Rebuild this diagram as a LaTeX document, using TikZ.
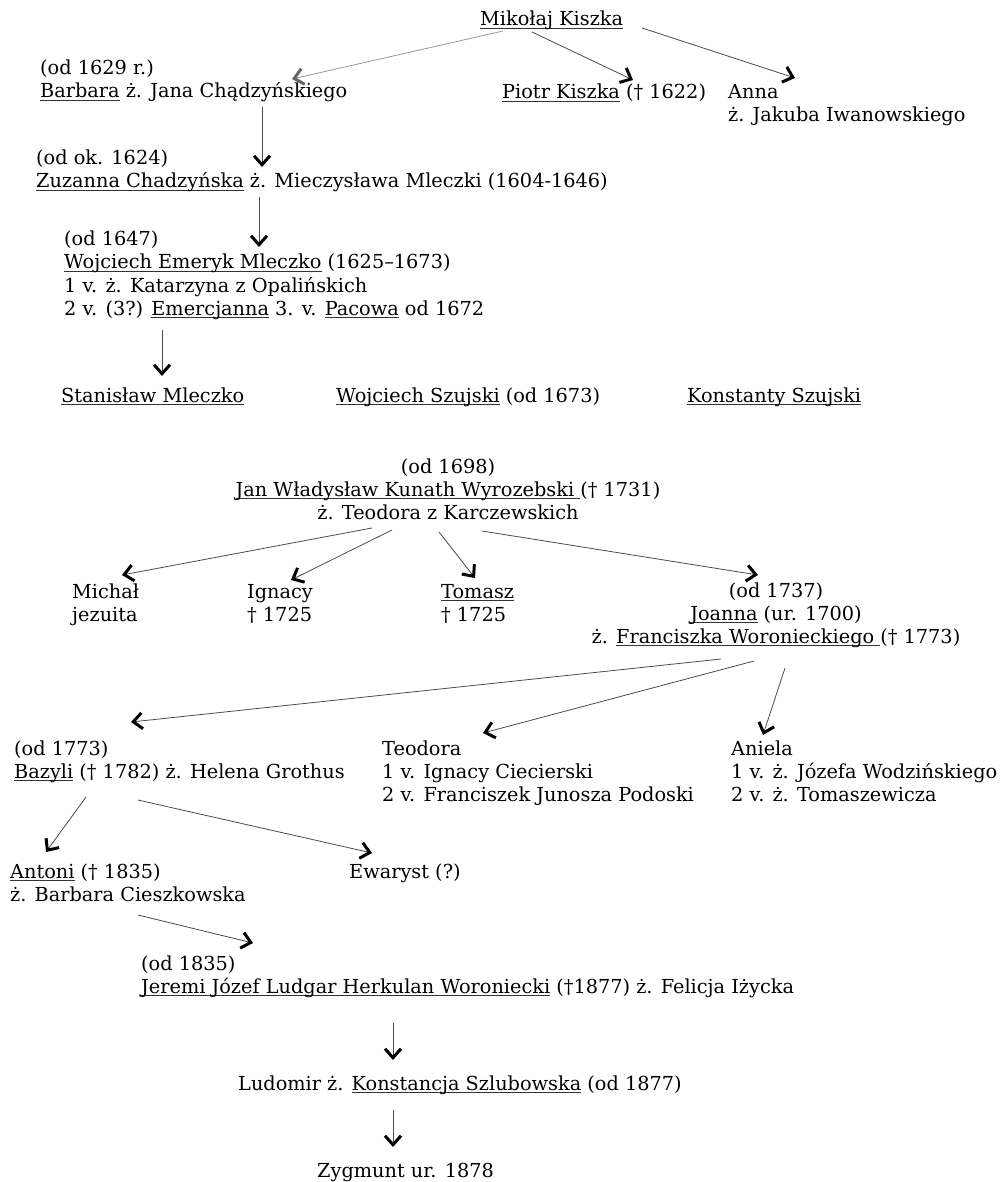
\documentclass[tikz,border=0pt]{standalone}
\usepackage{fontspec}
\setmainfont{DejaVu Serif}
\usetikzlibrary{arrows.meta,calc}
\newcommand\undl[1]{\setbox0=\hbox{#1}\rlap{\color{black!80}\rule[-3pt]{\wd0}{0.9pt}}\box0\relax}
\tikzset{
  txt/.style={inner sep=0pt, anchor=base west, font=\fontsize{19.3}{23}\selectfont, text=black},
  ctxt/.style={txt, anchor=base},
  arr/.style={draw=black!70, line width=0.8pt,
    -{Straight Barb[length=9pt,width=16pt,line width=3pt,color=black]}},
  arrlight/.style={draw=black!40, line width=0.8pt,
    -{Straight Barb[length=9pt,width=16pt,line width=3pt,color=black!60]}}
}
\begin{document}
\begin{tikzpicture}[x=1pt,y=-1pt]
\useasboundingbox[fill=white] (0,0) rectangle (999,1182);
% generation 1
\node[txt] (mik) at (480,26) {\undl{Mikołaj Kiszka}};
\node[txt] (b1) at (40,75) {(od 1629 r.)};
\node[txt] (b2) at (40,98) {\undl{Barbara} ż. Jana Chądzyńskiego};
\node[txt] (piotr) at (502,99) {\undl{Piotr Kiszka} († 1622)};
\node[txt] (anna1) at (728,99) {Anna};
\node[txt] (anna2) at (728,122) {ż. Jakuba Iwanowskiego};
% Zuzanna
\node[txt] (z1) at (36,165) {(od ok. 1624)};
\node[txt] (z2) at (36,188) {\undl{Zuzanna Chadzyńska} ż. Mieczysława Mleczki (1604-1646)};
% Wojciech
\node[txt] (w1) at (64,246) {(od 1647)};
\node[txt] (w2) at (64,269) {\undl{Wojciech Emeryk Mleczko} (1625–1673)};
\node[txt] (w3) at (64,292) {1 v. ż. Katarzyna z Opalińskich};
\node[txt] (w4) at (64,315) {2 v. (3?) \undl{Emercjanna} 3. v. \undl{Pacowa} od 1672};
% row
\node[txt] (stan) at (61,402) {\undl{Stanisław Mleczko}};
\node[txt] (wsz) at (336,402) {\undl{Wojciech Szujski} (od 1673)};
\node[txt] (kon) at (687,402) {\undl{Konstanty Szujski}};
% Jan
\node[ctxt] (j1) at (448,473) {(od 1698)};
\node[ctxt] (j2) at (448,496) {\undl{Jan Władysław Kunath Wyrozebski\ }(† 1731)};
\node[ctxt] (j3) at (448,519) {ż. Teodora z Karczewskich};
% children
\node[txt] (mich1) at (72,598) {Michał};
\node[txt] (mich2) at (72,621) {jezuita};
\node[txt] (ign1) at (247,598) {Ignacy};
\node[txt] (ign2) at (247,621) {† 1725};
\node[txt] (tom1) at (441,598) {\undl{Tomasz}};
\node[txt] (tom2) at (441,621) {† 1725};
\node[ctxt] (jo1) at (776,597) {(od 1737)};
\node[ctxt] (jo2) at (776,620) {\undl{Joanna} (ur. 1700)};
\node[ctxt] (jo3) at (776,643) {ż. \undl{Franciszka Woronieckiego\ }(† 1773)};
% next row
\node[txt] (baz1) at (14,755) {(od 1773)};
\node[txt] (baz2) at (14,778) {\undl{Bazyli} († 1782) ż. Helena Grothus};
\node[txt] (teo1) at (382,755) {Teodora};
\node[txt] (teo2) at (382,778) {1 v. Ignacy Ciecierski};
\node[txt] (teo3) at (382,801) {2 v. Franciszek Junosza Podoski};
\node[txt] (ani1) at (731,755) {Aniela};
\node[txt] (ani2) at (731,778) {1 v. ż. Józefa Wodzińskiego};
\node[txt] (ani3) at (731,801) {2 v. ż. Tomaszewicza};
% Antoni, Ewaryst
\node[txt] (ant1) at (10,878) {\undl{Antoni} († 1835)};
\node[txt] (ant2) at (10,901) {ż. Barbara Cieszkowska};
\node[txt] (ew) at (349,878) {Ewaryst (?)};
% Jeremi
\node[txt] (jer1) at (141,970) {(od 1835)};
\node[txt] (jer2) at (141,993) {\undl{Jeremi Józef Ludgar Herkulan Woroniecki} (†1877) ż. Felicja Iżycka};
\node[txt] (lud) at (238,1090) {Ludomir ż. \undl{Konstancja Szlubowska} (od 1877)};
\node[txt] (zyg) at (317,1177) {Zygmunt ur. 1878};
% connectors
\draw[arrlight] ([shift={(23,5)}]mik.base west) -- ([shift={(252,-19)}]b2.base west);
\draw[arr] ([shift={(52,6)}]mik.base west) -- ([shift={(131,-19)}]piotr.base west);
\draw[arr] ([shift={(162,2)}]mik.base west) -- ([shift={(67,-21)}]anna1.base west);
\draw[arr] ([shift={(222,9)}]b2.base west) -- ([shift={(226,-21)}]z2.base west);
\draw[arr] ([shift={(223,9)}]z2.base west) -- ([shift={(195,-22)}]w2.base west);
\draw[arr] ([shift={(98,15)}]w4.base west) -- ([shift={(101,-26)}]stan.base west);
\draw[arr] ([shift={(-76,9)}]j3.base) -- ([shift={(50,-23)}]mich1.base west);
\draw[arr] ([shift={(-56,11)}]j3.base) -- ([shift={(44,-18)}]ign1.base west);
\draw[arr] ([shift={(-9,13)}]j3.base) -- ([shift={(34,-20)}]tom1.base west);
\draw[arr] ([shift={(34,12)}]j3.base) -- ([shift={(-18,-22)}]jo1.base);
\draw[arr] ([shift={(-55,16)}]jo3.base) -- ([shift={(117,-33)}]baz1.base west);
\draw[arr] ([shift={(-22,18)}]jo3.base) -- ([shift={(101,-22)}]teo1.base west);
\draw[arr] ([shift={(9,25)}]jo3.base) -- ([shift={(32,-20)}]ani1.base west);
\draw[arr] ([shift={(72,19)}]baz2.base west) -- ([shift={(36,-26)}]ant1.base west);
\draw[arr] ([shift={(124,22)}]baz2.base west) -- ([shift={(23,-25)}]ew.base west);
\draw[arr] ([shift={(128,14)}]ant2.base west) -- ([shift={(112,-27)}]jer1.base west);
\draw[arr] ([shift={(252,30)}]jer2.base west) -- ([shift={(155,-30)}]lud.base west);
\draw[arr] ([shift={(155,20)}]lud.base west) -- ([shift={(76,-30)}]zyg.base west);
\end{tikzpicture}
\end{document}
